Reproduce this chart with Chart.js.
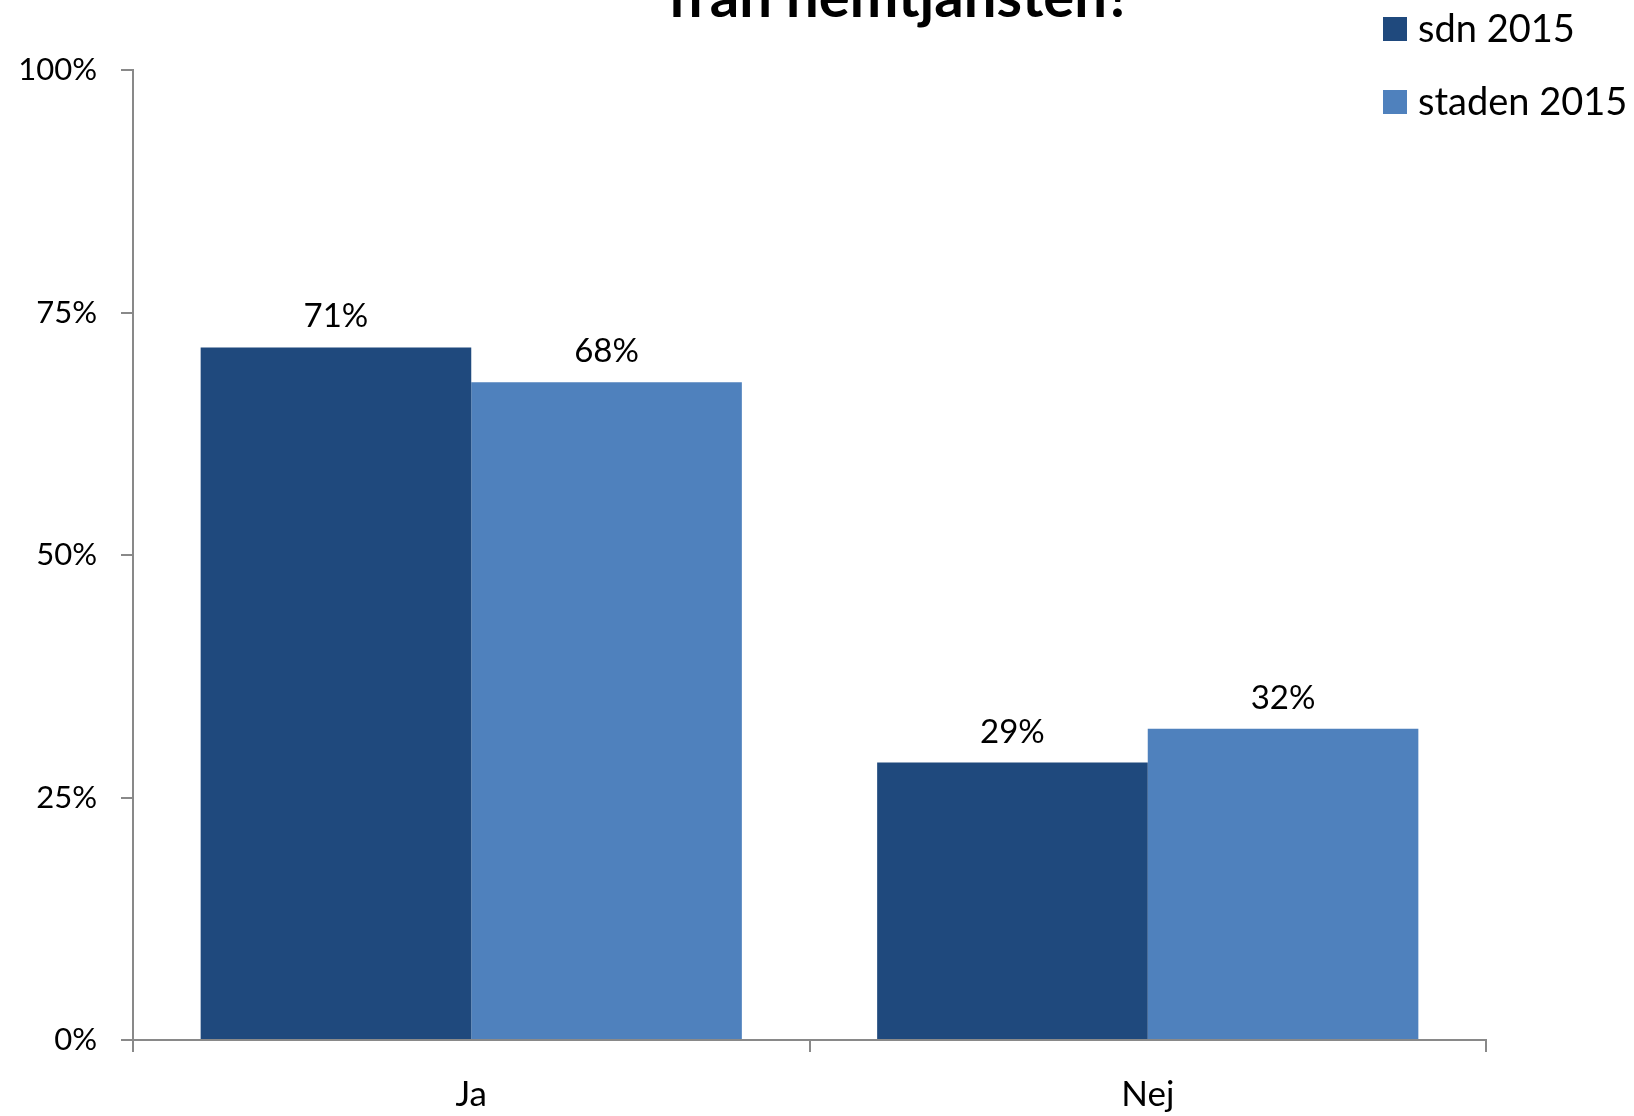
<!DOCTYPE html>
<html>
<head>
<meta charset="utf-8">
<script src="https://cdn.jsdelivr.net/npm/chart.js@4"></script>
<style>
  html, body { margin: 0; padding: 0; background: #fff; }
  #wrap { width: 1634px; height: 1116px; position: relative; }
</style>
</head>
<body>
<div id="wrap"><canvas id="diagram"></canvas></div>
<script>
const kategorier = ['Ja', 'Nej'];
const serieNamn = ['sdn 2015', 'staden 2015'];
const sdn2015 = [71.4, 28.6];
const staden2015 = [67.8, 32.1];
const yTicks = [0, 25, 50, 75, 100];
const titelRader = ['från hemtjänsten?'];

const farger = ['#1F497D', '#4F81BD'];
const axelFarg = '#898989';
const typsnitt = 'Lato, "Open Sans", sans-serif';

// title, legend and value labels drawn by hand to match the Excel layout
const egnaTexter = {
    id: 'egnaTexter',
    afterDatasetsDraw(chart) {
        const ctx = chart.ctx;
        ctx.save();
        ctx.fillStyle = '#000';

        // value labels above bars
        ctx.font = '33px ' + typsnitt;
        ctx.textAlign = 'center';
        ctx.textBaseline = 'alphabetic';
        chart.data.datasets.forEach((ds, i) => {
            chart.getDatasetMeta(i).data.forEach((bar, j) => {
                ctx.fillText(Math.round(ds.data[j]) + '%', bar.x, bar.y - 20);
            });
        });

        // title (first line falls outside the picture)
        ctx.font = 'bold 58px ' + typsnitt;
        titelRader.forEach((rad, i) => {
            ctx.fillText(rad, 900, 17 - (titelRader.length - 1 - i) * 64);
        });

        // legend
        ctx.font = '38px ' + typsnitt;
        ctx.textAlign = 'left';
        ctx.textBaseline = 'middle';
        chart.data.datasets.forEach((ds, i) => {
            const y = 17 + i * 73;
            ctx.fillStyle = ds.backgroundColor;
            ctx.fillRect(1383, y, 24, 24);
            ctx.fillStyle = '#000';
            ctx.fillText(ds.label, 1418, y + 13);
        });
        ctx.restore();
    }
};

function ritaDiagram() {
    Chart.defaults.font.family = typsnitt;
    Chart.defaults.color = '#000';

    new Chart(document.getElementById('diagram'), {
        type: 'bar',
        data: {
            labels: kategorier,
            datasets: [
                { label: serieNamn[0], data: sdn2015, backgroundColor: farger[0] },
                { label: serieNamn[1], data: staden2015, backgroundColor: farger[1] }
            ]
        },
        options: {
            responsive: true,
            maintainAspectRatio: false,
            animation: false,
            layout: { padding: { top: 70, right: 148, left: 0, bottom: 0 } },
            datasets: { bar: { categoryPercentage: 0.8, barPercentage: 1.0 } },
            plugins: {
                legend: { display: false },
                title: { display: false },
                tooltip: { enabled: false }
            },
            scales: {
                x: {
                    grid: { display: true, drawOnChartArea: false, drawTicks: true, tickLength: 12, color: axelFarg, lineWidth: 2, offset: true },
                    border: { display: true, color: axelFarg, width: 2 },
                    ticks: { font: { size: 35 }, padding: 22 },
                    afterFit: s => { s.height = 76; }
                },
                y: {
                    min: yTicks[0],
                    max: yTicks[yTicks.length - 1],
                    afterBuildTicks: s => { s.ticks = yTicks.map(v => ({ value: v })); },
                    grid: { display: true, drawOnChartArea: false, drawTicks: true, tickLength: 12, color: axelFarg, lineWidth: 2 },
                    border: { display: true, color: axelFarg, width: 2 },
                    ticks: { font: { size: 31 }, padding: 24, callback: v => v + '%' },
                    afterFit: s => { s.width = 133; }
                }
            }
        },
        plugins: [egnaTexter]
    });
}

ritaDiagram();
</script>
</body>
</html>
